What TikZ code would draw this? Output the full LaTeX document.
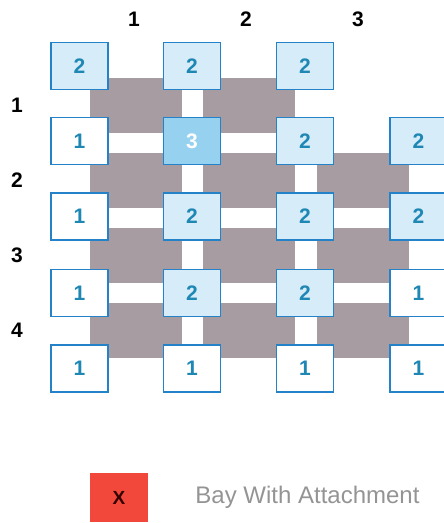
\documentclass[tikz,border=0pt]{standalone}
\usepackage{fontspec}
\setmainfont{Liberation Sans}
\usepackage{xcolor}
\usetikzlibrary{positioning}
\definecolor{bayGray}{RGB}{166,156,161}
\definecolor{boxBlue}{RGB}{35,130,200}
\definecolor{numBlue}{RGB}{30,135,180}
\definecolor{paleBlue}{RGB}{214,236,248}
\definecolor{midBlue}{RGB}{150,210,240}
\definecolor{attRed}{RGB}{242,72,60}

\begin{document}
\begin{tikzpicture}[x=1pt, y=-1pt,
    bay/.style={rectangle, fill=bayGray, minimum width=92pt, minimum height=55pt, inner sep=0pt},
    post/.style={rectangle, draw=boxBlue, line width=1.4pt, fill=white, minimum width=57pt,
                 minimum height=47pt, inner sep=0pt, font=\fontsize{21}{21}\selectfont\bfseries,
                 text=numBlue},
    two/.style={post, fill=paleBlue},
    three/.style={post, fill=midBlue, text=white},
    axis/.style={font=\fontsize{21}{21}\selectfont\bfseries}
]
\useasboundingbox (0,0) rectangle (444,523);
\clip (0,0) rectangle (444,523);

% Bays
\node[bay] (bay11) at (136,105.5) {};
\node[bay] (bay12) at (249,105.5) {};
\node[bay] (bay21) at (136,180) {};
\node[bay] (bay22) at (249,180) {};
\node[bay] (bay23) at (362.5,180) {};
\node[bay] (bay31) at (136,255) {};
\node[bay] (bay32) at (249,255) {};
\node[bay] (bay33) at (362.5,255) {};
\node[bay] (bay41) at (136,330.5) {};
\node[bay] (bay42) at (249,330.5) {};
\node[bay] (bay43) at (362.5,330.5) {};

% Posts
\node[two] (p11) at (79.5,66) {2};
\node[two] (p12) at (192,66) {2};
\node[two] (p13) at (305,66) {2};
\node[post] (p21) at (79.5,141) {1};
\node[three] (p22) at (192,141) {3};
\node[two] (p23) at (305,141) {2};
\node[two] (p24) at (418.5,141) {2};
\node[post] (p31) at (79.5,216.5) {1};
\node[two] (p32) at (192,216.5) {2};
\node[two] (p33) at (305,216.5) {2};
\node[two] (p34) at (418.5,216.5) {2};
\node[post] (p41) at (79.5,293) {1};
\node[two] (p42) at (192,293) {2};
\node[two] (p43) at (305,293) {2};
\node[post] (p44) at (418.5,293) {1};
\node[post] (p51) at (79.5,368.5) {1};
\node[post] (p52) at (192,368.5) {1};
\node[post] (p53) at (305,368.5) {1};
\node[post] (p54) at (418.5,368.5) {1};

% Axis labels
\node[axis] (c1) at (134,19) {1};
\node[axis] (c2) at (246,19) {2};
\node[axis] (c3) at (358,19) {3};
\node[axis] (r1) at (17,105) {1};
\node[axis] (r2) at (17,180) {2};
\node[axis] (r3) at (17,255) {3};
\node[axis] (r4) at (17,330) {4};

% Legend
\node[rectangle, fill=attRed, minimum width=58pt, minimum height=49pt, inner sep=0pt,
      font=\fontsize{19}{19}\selectfont\bfseries, text=black!80!red] (key) at (119,497.5) {X};
\node[right=47pt of key, font=\fontsize{24}{24}\selectfont, text=black!42, inner sep=0pt] (keytext) {Bay With Attachment};
\end{tikzpicture}
\end{document}
